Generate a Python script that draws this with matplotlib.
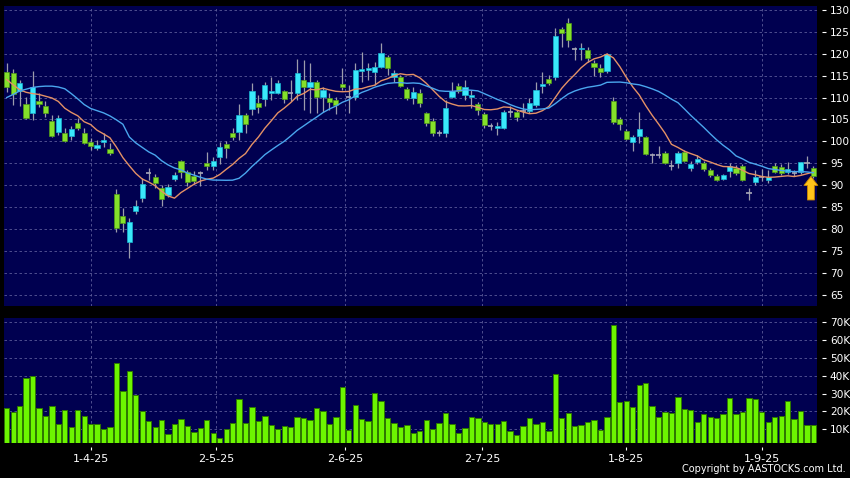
import matplotlib
matplotlib.use('Agg')
import matplotlib.pyplot as plt
import numpy as np
import pandas as pd

# ---------------- data ----------------
opens = [115.8, 115.5, 111.6, 108.5, 106.4, 109.1, 108.1, 104.65, 102.2, 101.8,
         101.2, 104.1, 101.8, 99.8, 98.4, 99.8, 98.2, 87.9, 83.0, 77.0,
         84.0, 87.0, 92.8, 91.9, 89.4, 87.75, 91.4, 95.4, 92.9, 92.0,
         92.7, 95.0, 94.4, 96.5, 99.3, 101.8, 102.2, 106.0, 107.3, 108.7,
         109.6, 111.0, 111.0, 111.4, 111.0, 111.1, 114.0, 112.3, 113.5, 110.1,
         110.0, 109.4, 113.1, 110.2, 110.05, 116.1, 116.4, 115.9, 116.9, 119.2,
         114.6, 114.6, 112.0, 109.8, 111.0, 106.4, 104.65, 101.85, 101.85, 110.2,
         112.6, 110.6, 110.1, 108.45, 106.25, 103.5, 103.0, 103.0, 106.6, 106.6,
         106.9, 106.85, 108.3, 112.65, 114.15, 114.6, 125.6, 127.0, 121.1, 121.0,
         120.9, 117.8, 116.8, 116.15, 109.2, 105.0, 102.4, 99.9, 101.2, 100.9,
         96.9, 96.9, 97.3, 94.45, 95.0, 97.65, 93.85, 95.2, 95.0, 93.5,
         92.1, 91.4, 93.25, 94.0, 94.45, 88.15, 90.6, 91.95, 91.2, 94.45,
         94.1, 93.1, 92.7, 92.9, 95.1, 94.0]
highs = [117.8, 116.5, 114.0, 110.2, 116.1, 111.0, 109.3, 106.0, 106.0, 103.0,
         103.4, 105.3, 103.1, 100.7, 100.3, 101.8, 99.55, 89.05, 84.7, 82.4,
         86.6, 91.6, 93.9, 92.5, 90.0, 90.2, 93.1, 95.75, 93.5, 93.2,
         93.2, 97.6, 96.5, 99.8, 100.1, 103.0, 108.5, 106.4, 113.3, 110.6,
         113.6, 114.8, 114.0, 111.7, 113.9, 118.7, 118.6, 117.8, 114.0, 112.5,
         111.0, 110.2, 116.7, 112.9, 117.8, 120.3, 117.8, 118.2, 122.4, 119.7,
         116.3, 115.2, 112.3, 112.3, 111.9, 106.8, 105.3, 102.6, 109.45, 113.6,
         113.25, 114.0, 111.7, 108.9, 106.8, 104.1, 104.35, 107.2, 108.0, 107.2,
         108.7, 109.8, 113.6, 115.9, 115.2, 125.8, 126.0, 128.1, 121.6, 122.5,
         121.6, 118.6, 117.7, 120.25, 110.1, 105.55, 102.9, 101.5, 106.8, 101.3,
         97.3, 99.0, 97.7, 95.7, 97.7, 98.0, 95.4, 96.8, 95.5, 93.9,
         92.5, 92.6, 95.0, 94.6, 94.8, 89.3, 93.4, 93.7, 93.4, 95.1,
         94.8, 95.3, 93.5, 95.3, 96.7, 94.3]
lows = [111.3, 108.3, 108.0, 105.0, 104.9, 107.8, 105.6, 101.1, 101.5, 99.8,
        100.3, 102.6, 99.3, 98.0, 98.0, 98.8, 96.9, 79.2, 79.4, 73.3,
        83.3, 86.2, 91.2, 89.4, 85.3, 87.4, 90.9, 91.7, 89.9, 90.2,
        89.7, 93.5, 93.5, 94.8, 96.1, 100.3, 100.3, 101.8, 106.0, 106.4,
        108.1, 109.5, 110.8, 108.8, 109.1, 109.4, 107.2, 106.4, 106.4, 106.8,
        107.2, 106.3, 111.7, 106.5, 109.5, 113.6, 114.0, 112.9, 116.7, 115.2,
        113.6, 112.3, 109.45, 108.5, 107.8, 103.4, 101.2, 101.2, 100.9, 110.0,
        111.0, 109.5, 107.5, 106.0, 103.1, 102.6, 101.5, 102.8, 105.5, 104.65,
        105.65, 106.4, 107.9, 111.0, 112.9, 114.0, 121.6, 121.6, 118.6, 118.6,
        118.2, 114.9, 114.6, 115.5, 104.0, 102.6, 100.4, 97.9, 99.7, 96.9,
        95.0, 96.2, 94.9, 93.4, 94.0, 95.3, 93.2, 94.8, 93.3, 91.8,
        90.9, 91.1, 91.8, 92.4, 91.0, 86.6, 90.1, 90.9, 90.4, 92.7,
        92.4, 92.6, 92.1, 92.6, 93.9, 91.6]
closes = [112.3, 110.7, 113.25, 105.3, 112.3, 108.6, 106.4, 101.3, 105.3, 100.1,
          102.75, 103.1, 99.55, 99.0, 99.2, 100.3, 97.4, 80.1, 81.3, 81.5,
          85.3, 90.2, 92.8, 90.4, 86.8, 89.65, 92.2, 92.9, 90.6, 90.95,
          92.7, 94.4, 95.4, 98.6, 98.55, 100.9, 106.0, 104.0, 111.4, 107.9,
          112.9, 111.4, 113.25, 109.6, 111.0, 115.5, 112.3, 113.5, 110.1, 111.75,
          109.0, 108.2, 112.3, 110.2, 116.4, 116.5, 116.8, 116.9, 120.1, 116.7,
          115.7, 112.7, 109.8, 111.2, 108.7, 104.1, 101.85, 101.85, 107.7, 111.6,
          111.6, 112.4, 110.6, 107.2, 103.75, 103.5, 103.6, 106.6, 106.6, 105.65,
          106.9, 108.7, 111.75, 113.0, 113.25, 124.1, 124.7, 123.1, 121.1, 121.4,
          119.0, 116.9, 115.9, 119.9, 104.5, 104.0, 100.5, 101.1, 102.75, 97.1,
          96.9, 96.9, 95.0, 94.45, 97.3, 95.6, 94.8, 95.9, 93.7, 92.3,
          91.2, 92.3, 94.4, 92.7, 91.2, 88.15, 91.8, 91.95, 91.8, 92.9,
          92.7, 93.7, 92.7, 95.2, 95.1, 92.0]
volumes_k = [21.7, 19.9, 22.9, 38.7, 39.6, 21.9, 17.6, 23.2, 12.8, 20.8,
             11.3, 20.8, 17.4, 13.0, 13.0, 10.4, 11.5, 47.1, 31.6, 42.4,
             29.0, 20.2, 14.7, 11.3, 15.0, 7.4, 13.0, 15.8, 11.9, 8.5,
             10.6, 15.2, 8.0, 5.2, 10.0, 13.7, 26.8, 13.5, 22.3, 14.8,
             17.2, 12.2, 10.0, 11.7, 11.3, 16.7, 16.1, 15.2, 21.7, 20.0,
             13.1, 17.1, 33.6, 9.6, 23.6, 15.6, 14.5, 30.1, 26.0, 16.3,
             13.5, 11.5, 12.2, 8.0, 9.1, 15.1, 10.2, 13.5, 18.9, 13.1,
             8.0, 10.7, 16.7, 16.3, 13.9, 13.0, 13.1, 14.8, 9.2, 6.8,
             11.7, 16.3, 13.0, 14.3, 9.1, 41.1, 16.5, 19.1, 11.9, 12.2,
             14.3, 15.4, 9.8, 16.8, 68.3, 25.2, 25.6, 22.6, 34.7, 35.9,
             22.8, 16.7, 19.7, 19.1, 27.9, 21.4, 20.8, 13.9, 18.6, 16.8,
             16.3, 18.7, 27.3, 18.4, 19.7, 27.5, 26.9, 19.5, 13.9, 16.7,
             17.2, 25.6, 16.0, 20.4, 12.2, 12.2]
# first values of the moving averages (their history lies before the chart)
ma10_head = [114.1, 112.9, 111.8, 111.2, 110.9, 110.7, 110.3, 109.9, 109.1]
ma20_head = [110.0, 110.7, 111.5, 111.9, 112.3, 112.5, 112.6, 112.6, 112.4, 112.0,
             110.9, 109.7, 108.4, 107.5, 107.0, 106.5, 105.8, 104.9, 103.9]
date_tick_pos = [13, 32.4, 52.4, 73.7, 95.9, 117]
date_tick_labels = ['1-4-25', '2-5-25', '2-6-25', '2-7-25', '1-8-25', '1-9-25']
price_ticks = list(range(65, 131, 5))
volume_ticks_k = [10, 20, 30, 40, 50, 60, 70]

# ---------------- derived ----------------
o = np.array(opens); h = np.array(highs); l = np.array(lows); c = np.array(closes)
n = len(c)
x = np.arange(n)
cs = pd.Series(c)
ma10 = cs.rolling(10).mean().to_numpy()
ma10[:len(ma10_head)] = ma10_head
ma20 = cs.rolling(20).mean().to_numpy()
ma20[:len(ma20_head)] = ma20_head

UP_FC, UP_EC = '#3ae8fa', '#18b4d0'
DN_FC, DN_EC = '#84e02a', '#4f9a18'
DOJI = '#a8a8b8'
WICK = '#9c9cac'
NAVY = '#000050'
GRID = '#5a5a98'

fig = plt.figure(figsize=(8.5, 4.78), dpi=100, facecolor='black')
W, H = 850.0, 478.0
axp = fig.add_axes([4 / W, 1 - 306 / H, 812.7 / W, 300 / H])
axv = fig.add_axes([4 / W, 1 - 443.3 / H, 812.7 / W, 125 / H], sharex=axp)

for ax in (axp, axv):
    ax.set_facecolor(NAVY)
    for s in ax.spines.values():
        s.set_color('none')
    ax.set_axisbelow(True)

# ---- candles ----
axp.vlines(x, l, h, color=WICK, lw=0.9, zorder=2)
diff = c - o
is_doji = np.abs(diff) < 0.05
is_up = (diff > 0) & ~is_doji
is_dn = (diff < 0) & ~is_doji
bw = 0.8
bot = np.minimum(o, c)
hgt = np.abs(diff)
axp.bar(x[is_up], hgt[is_up], bottom=bot[is_up], width=bw, color=UP_FC,
        edgecolor=UP_EC, linewidth=0.5, zorder=3)
axp.bar(x[is_dn], hgt[is_dn], bottom=bot[is_dn], width=bw, color=DN_FC,
        edgecolor=DN_EC, linewidth=0.5, zorder=3)
axp.hlines(c[is_doji], x[is_doji] - bw / 2, x[is_doji] + bw / 2, color=DOJI,
           lw=1.2, zorder=3)

axp.plot(x, ma10, color='#e49166', lw=1.0, zorder=4)
axp.plot(x, ma20, color='#4aa6ee', lw=1.0, zorder=4)

# arrow under the last candle
axp.annotate('', xy=(x[-1] - 0.4, c[-1]), xycoords='data',
             xytext=(0, -17), textcoords='offset points',
             arrowprops=dict(arrowstyle='simple,head_length=0.65,head_width=1.0,tail_width=0.5',
                             fc='#ffc41a', ec='#c98400', lw=0.6,
                             shrinkA=0, shrinkB=0), zorder=6)

axp.set_ylim(62.4, 130.9)
axp.set_xlim(-0.42, n - 0.5)
axp.yaxis.tick_right()
axp.set_yticks(price_ticks)
axp.set_yticklabels([str(v) for v in price_ticks])
axp.spines['right'].set_position(('outward', 4))
axp.tick_params(axis='y', which='both', direction='out', length=3, width=0.8,
                color='white', labelcolor='white', labelsize=7.6, pad=2.5,
                right=True, left=False)
axp.tick_params(axis='x', which='both', bottom=False, labelbottom=False)
axp.set_xticks(date_tick_pos)
axp.grid(True, which='major', color=GRID, lw=0.6, ls=(0, (3, 3)))

# ---- volume ----
axv.bar(x, volumes_k, width=0.82, color='#6cf500', edgecolor='#2e7800',
        linewidth=0.7, zorder=3)
axv.set_ylim(2.2, 72.0)
axv.yaxis.tick_right()
axv.set_yticks(volume_ticks_k)
axv.set_yticklabels([f'{v}K' for v in volume_ticks_k])
axv.spines['right'].set_position(('outward', 4))
axv.spines['bottom'].set_position(('outward', 3))
axv.tick_params(axis='y', which='both', direction='out', length=3, width=0.8,
                color='white', labelcolor='white', labelsize=7.6, pad=2.5,
                right=True, left=False)
axv.set_xticks(date_tick_pos)
axv.set_xticklabels(date_tick_labels)
axv.tick_params(axis='x', which='both', direction='out', length=2.5, width=0.8,
                color='white', labelcolor='white', labelsize=8, pad=2.5)
axv.grid(True, which='major', color=GRID, lw=0.6, ls=(0, (3, 3)))

fig.text(846 / W, 1 - 469.5 / H, 'Copyright by AASTOCKS.com Ltd.', color='white',
         fontsize=7, ha='right', va='center')

fig.savefig('out.png', dpi=100, facecolor='black')
